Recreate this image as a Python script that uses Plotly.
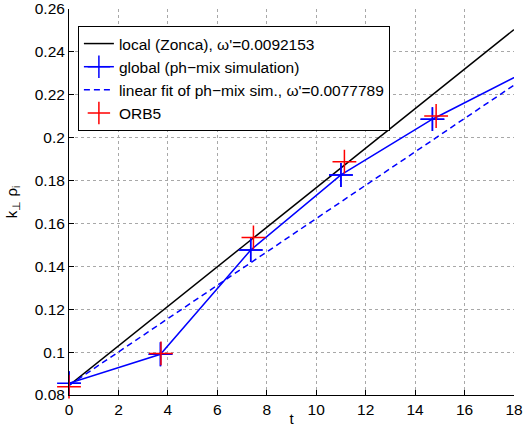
import plotly.graph_objects as go

# data
local_t = [0, 18]
local_k = [0.0845, 0.2504]

global_t = [0, 3.7, 7.35, 11.0, 14.7, 18.4]
global_k = [0.0855, 0.0990, 0.1476, 0.1826, 0.2086, 0.2304]

fit_t = [0, 18]
fit_k = [0.0845, 0.2245]

orb5_t = [0, 3.72, 7.46, 11.14, 14.85]
orb5_k = [0.0839, 0.0994, 0.1535, 0.1888, 0.2101]

x_ticks = list(range(0, 19, 2))
y_ticks = [0.08, 0.10, 0.12, 0.14, 0.16, 0.18, 0.20, 0.22, 0.24, 0.26]
y_labels = ["0.08", "0.1", "0.12", "0.14", "0.16", "0.18", "0.2", "0.22", "0.24", "0.26"]

font = "Liberation Sans, Arial, Helvetica, sans-serif"
blue = "#0000ff"
red = "#ff0000"

fig = go.Figure()

fig.add_trace(go.Scatter(
    x=local_t, y=local_k, mode="lines",
    name="local (Zonca), \u03c9'=0.0092153",
    line=dict(color="black", width=1.5),
))
fig.add_trace(go.Scatter(
    x=global_t, y=global_k, mode="lines+markers",
    name="global (ph\u2212mix simulation)",
    line=dict(color=blue, width=1.5),
    marker=dict(symbol="cross-thin", size=17, line=dict(color=blue, width=1.5)),
))
# markers again, unclipped so the ones sitting on the axis show in full
fig.add_trace(go.Scatter(
    x=global_t[:5], y=global_k[:5], mode="markers",
    marker=dict(symbol="cross-thin", size=17, line=dict(color=blue, width=1.5)),
    cliponaxis=False, showlegend=False,
))
fig.add_trace(go.Scatter(
    x=fit_t, y=fit_k, mode="lines",
    name="linear fit of ph\u2212mix sim., \u03c9'=0.0077789",
    line=dict(color=blue, width=1.5, dash="6px,4px"),
))
fig.add_trace(go.Scatter(
    x=orb5_t, y=orb5_k, mode="markers",
    name="ORB5",
    marker=dict(symbol="cross-thin", size=17, line=dict(color=red, width=1.5)),
    cliponaxis=False,
))

fig.update_layout(
    width=525, height=427,
    margin=dict(l=69, r=11, t=9, b=32),
    paper_bgcolor="white", plot_bgcolor="white",
    font=dict(family=font, size=15, color="black"),
    legend=dict(
        x=0.02, y=0.956, xanchor="left", yanchor="top",
        bordercolor="black", borderwidth=1, bgcolor="white",
        font=dict(size=15.5), traceorder="normal",
    ),
)

fig.update_xaxes(
    range=[0, 18], tickvals=x_ticks, automargin=False,
    showgrid=True, gridcolor="#a8a8a8", griddash="dot", gridwidth=1,
    showline=True, linecolor="black", linewidth=1,
    ticks="inside", ticklen=5, tickcolor="black",
    zeroline=False,
    title=dict(text="t", standoff=4, font=dict(size=15)),
    tickfont=dict(size=15.5),
)
fig.update_yaxes(
    range=[0.08, 0.26], tickvals=y_ticks, ticktext=y_labels, automargin=False,
    showgrid=True, gridcolor="#a8a8a8", griddash="dot", gridwidth=1,
    showline=True, linecolor="black", linewidth=1,
    ticks="inside", ticklen=5, tickcolor="black",
    zeroline=False,
    title=dict(text="k<sub>\u22a5</sub> \u03c1<sub>i</sub>", standoff=13, font=dict(size=15)),
    tickfont=dict(size=15.5),
)

fig.write_html("out.html", config={"displayModeBar": False},
               post_script="document.body.style.margin='0';")
